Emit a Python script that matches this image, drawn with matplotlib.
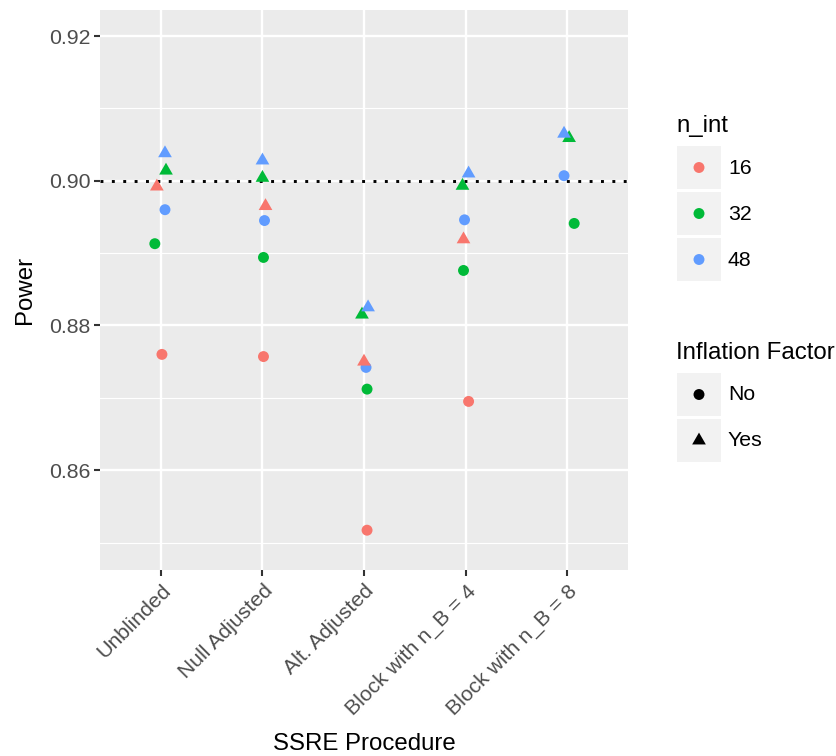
import numpy as np
import matplotlib.pyplot as plt
from matplotlib.path import Path
from matplotlib.patches import Rectangle
from matplotlib.transforms import ScaledTranslation

# data
procedures = ['Unblinded', 'Null Adjusted', 'Alt. Adjusted',
              'Block with n_B = 4', 'Block with n_B = 8']
n_int = [16, 32, 48]
n_int_colors = ['#F8766D', '#00BA38', '#619CFF']
nan = np.nan

# inflation factor = No (circles)
power_no_16 = [0.8760, 0.8757, 0.8517, 0.8695, nan]
power_no_32 = [0.8913, 0.8894, 0.8712, 0.8876, 0.8941]
power_no_48 = [0.8960, 0.8945, 0.8742, 0.8946, 0.9007]
# inflation factor = Yes (triangles)
power_yes_16 = [0.8992, 0.8965, 0.8750, 0.8919, nan]
power_yes_32 = [0.9014, 0.9004, 0.8815, 0.8993, 0.9059]
power_yes_48 = [0.9038, 0.9028, 0.8825, 0.9010, 0.9065]

# horizontal jitter of each point (category units)
jit_no_16 = [0.01, 0.01, 0.03, 0.03, 0.0]
jit_no_32 = [-0.06, 0.01, 0.03, -0.02, 0.07]
jit_no_48 = [0.04, 0.02, 0.02, -0.01, -0.03]
jit_yes_16 = [-0.04, 0.03, 0.0, -0.02, 0.0]
jit_yes_32 = [0.05, 0.0, -0.02, -0.03, 0.02]
jit_yes_48 = [0.04, 0.0, 0.04, 0.03, -0.03]

target_power = 0.90

# triangle with centroid at the data point (like R pch 17)
tri = Path([(0, 1), (-0.866, -0.5), (0.866, -0.5), (0, 1)])
circ_size = 62
tri_size = 130
small_font = 15.3
big_font = 17.3

W, H = 837, 756
fig = plt.figure(figsize=(W / 100, H / 100), dpi=100)
plt.rcParams['font.family'] = ['Liberation Sans', 'DejaVu Sans']

ax = fig.add_axes([100 / W, 1 - 570 / H, 528 / W, 560 / H])
ax.set_facecolor('#EBEBEB')
for s in ax.spines.values():
    s.set_visible(False)

x = np.arange(len(procedures))
no_sets = [(power_no_16, jit_no_16), (power_no_32, jit_no_32), (power_no_48, jit_no_48)]
yes_sets = [(power_yes_16, jit_yes_16), (power_yes_32, jit_yes_32), (power_yes_48, jit_yes_48)]

for (vals, jit), col in zip(no_sets, n_int_colors):
    ax.scatter(x + np.array(jit), vals, s=circ_size, marker='o', color=col,
               edgecolors='none', zorder=3)
for (vals, jit), col in zip(yes_sets, n_int_colors):
    ax.scatter(x + np.array(jit), vals, s=tri_size, marker=tri, color=col,
               edgecolors='none', zorder=3)

ax.axhline(target_power, color='black', linestyle=(0, (1, 2.9)), linewidth=2.1, zorder=2)

ax.set_xlim(-0.6, 4.6)
ax.set_ylim(0.8462, 0.9236)
ax.set_yticks([0.86, 0.88, 0.90, 0.92])
ax.set_yticklabels(['0.86', '0.88', '0.90', '0.92'])
ax.set_yticks([0.85, 0.87, 0.89, 0.91], minor=True)
ax.set_xticks(x)
ax.set_xticklabels(procedures, rotation=45, ha='right', va='baseline',
                   rotation_mode='anchor')
ax.grid(which='major', color='white', linewidth=1.7, zorder=1)
ax.grid(which='minor', axis='y', color='white', linewidth=0.85, zorder=1)
ax.set_axisbelow(True)
ax.tick_params(which='major', length=4, width=1.5, color='#333333',
               labelcolor='#4D4D4D', labelsize=small_font, pad=3)
ax.tick_params(axis='x', pad=11.8)
ax.tick_params(which='minor', length=0)

# shift rotated labels right so they sit like ggplot's
shift = ScaledTranslation(11 / 100, 0, fig.dpi_scale_trans)
for lab in ax.get_xticklabels():
    lab.set_transform(lab.get_transform() + shift)

ax.set_xlabel('SSRE Procedure', fontsize=big_font)
ax.set_ylabel('Power', fontsize=big_font)
ax.xaxis.set_label_coords(0.5, -0.291)
ax.yaxis.set_label_coords(-0.121, 0.5)

# legends drawn in pixel coordinates
lg = fig.add_axes([0, 0, 1, 1])
lg.set_xlim(0, W)
lg.set_ylim(H, 0)
lg.axis('off')
lg.patch.set_visible(False)

lg.text(676, 126, 'n_int', fontsize=big_font, va='center', ha='left')
key_tops = [146, 192, 238]
for top, lab, col in zip(key_tops, n_int, n_int_colors):
    lg.add_patch(Rectangle((677, top), 44, 43, facecolor='#F2F2F2', edgecolor='none'))
    lg.scatter([699], [top + 21.5], s=circ_size, marker='o', color=col, edgecolors='none')
    lg.text(728, top + 22, str(lab), fontsize=small_font, va='center', ha='left')

lg.text(676, 353, 'Inflation Factor', fontsize=big_font, va='center', ha='left')
for top, lab, mk, sz in zip([373, 419], ['No', 'Yes'], ['o', tri], [circ_size, tri_size]):
    lg.add_patch(Rectangle((677, top), 44, 43, facecolor='#F2F2F2', edgecolor='none'))
    lg.scatter([699], [top + 21.5], s=sz, marker=mk, color='black', edgecolors='none')
    lg.text(728, top + 22, lab, fontsize=small_font, va='center', ha='left')

fig.savefig('out.png', dpi=100)
